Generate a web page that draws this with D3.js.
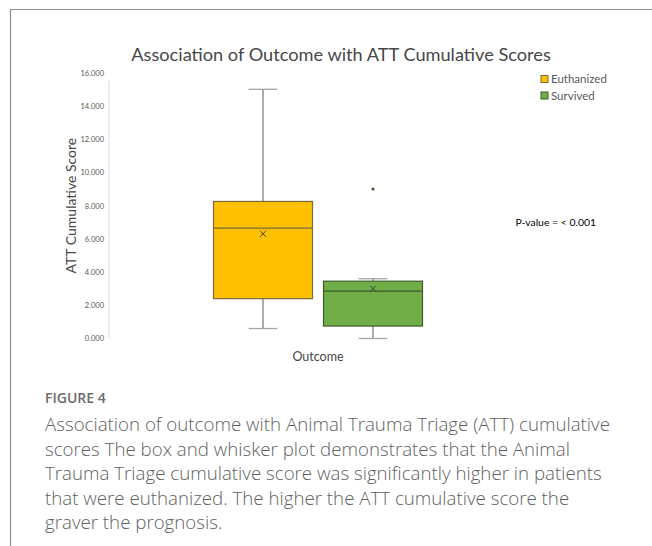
<!DOCTYPE html>
<html>
<head>
<meta charset="utf-8">
<script src="https://cdn.jsdelivr.net/npm/d3@7"></script>
<style>
	body { margin: 0; background: #fff; }
	svg { display: block; }
</style>
</head>
<body>
<div id="chartDiv"></div>
<script>
;(function() {

	// box plot values
	var seriesNames = ["Euthanized", "Survived"];
	var seriesColors = ["#ffc000", "#70ad47"];
	var seriesStrokes = ["#7a6a3e", "#3d5a2c"];
	var whiskerLow = [0.6, 0.0];
	var quartile1 = [2.4, 0.75];
	var medians = [6.65, 2.85];
	var quartile3 = [8.25, 3.45];
	var whiskerHigh = [15.0, 3.6];
	var means = [6.3, 3.0];
	var outliers = [[], [9.0]];

	var yTicks = [0, 2, 4, 6, 8, 10, 12, 14, 16];
	var categoryName = "Outcome";

	var chartTitle = "Association of Outcome with ATT Cumulative Scores";
	var yAxisLabelHeader = "ATT Cumulative Score";
	var pValueText = "P-value = < 0.001";
	var figureLabel = "FIGURE 4";
	var captionLines = [
		"Association of outcome with Animal Trauma Triage (ATT) cumulative",
		"scores The box and whisker plot demonstrates that the Animal",
		"Trauma Triage cumulative score was significantly higher in patients",
		"that were euthanized. The higher the ATT cumulative score the",
		"graver the prognosis."
	];

	var width = 652;
	var height = 546;
	var plot = { left: 109, right: 527, top: 72.7, bottom: 338.5 };
	var chartFont = "Lato, 'Open Sans', sans-serif";

	var chart;

	init();

	function init() {
		chart = d3.select("#chartDiv").append("svg")
			.attr("width", width)
			.attr("height", height);

		// figure frame (left + top rules)
		chart.append("path")
			.attr("d", "M10.5,546V9.5H652")
			.attr("fill", "none")
			.attr("stroke", "#8c8c8c")
			.attr("stroke-width", 1.2);

		createScales();
		createAxes();
		drawBoxes();
		drawLegend();
		drawCaption();
	}

	function createScales() {
		chart.yScale = d3.scaleLinear()
			.domain([0, 16])
			.range([plot.bottom, plot.top]);

		chart.xScale = d3.scaleBand()
			.domain([categoryName])
			.range([plot.left, plot.right])
			.paddingOuter(0.5);

		chart.seriesScale = d3.scaleBand()
			.domain(seriesNames)
			.range([0, chart.xScale.bandwidth()])
			.paddingInner(0.1);
	}

	function createAxes() {
		chart.append("text")
			.attr("x", 341)
			.attr("y", 61)
			.attr("text-anchor", "middle")
			.style("font-family", chartFont)
			.style("font-size", "18.2px")
			.attr("fill", "#474747")
			.text(chartTitle);

		var yAxis = d3.axisLeft(chart.yScale)
			.tickValues(yTicks)
			.tickSize(0)
			.tickPadding(5)
			.tickFormat(d3.format(".3f"));

		var g = chart.append("g")
			.attr("class", "y axis")
			.attr("transform", "translate(" + plot.left + ",0)")
			.call(yAxis);

		g.select(".domain")
			.attr("d", "M0," + chart.yScale(15.5) + "V" + chart.yScale(0))
			.attr("stroke", "#d9d9d9");

		g.selectAll("text")
			.style("font-family", chartFont)
			.style("font-size", "7.5px")
			.attr("fill", "#595959");

		// y axis header label
		chart.append("text")
			.attr("text-anchor", "middle")
			.attr("transform", "translate(76," + chart.yScale(8) + ") rotate(-90)")
			.style("font-family", chartFont)
			.style("font-size", "14px")
			.attr("fill", "#474747")
			.text(yAxisLabelHeader);

		// x axis header label
		chart.append("text")
			.attr("text-anchor", "middle")
			.attr("x", chart.xScale(categoryName) + chart.xScale.bandwidth() / 2)
			.attr("y", 361)
			.style("font-family", chartFont)
			.style("font-size", "12.5px")
			.attr("fill", "#474747")
			.text(categoryName);
	}

	function drawBoxes() {
		var y = chart.yScale;
		var x0 = chart.xScale(categoryName);
		var bw = chart.seriesScale.bandwidth();

		seriesNames.forEach(function(name, i) {
			var left = x0 + chart.seriesScale(name);
			var cx = left + bw / 2;
			var capHalf = bw * 0.145;
			var g = chart.append("g").attr("class", "box");

			// whiskers
			g.append("line")
				.attr("x1", cx).attr("x2", cx)
				.attr("y1", y(quartile3[i])).attr("y2", y(whiskerHigh[i]))
				.attr("stroke", "#595959").attr("stroke-width", 1);
			g.append("line")
				.attr("x1", cx).attr("x2", cx)
				.attr("y1", y(quartile1[i])).attr("y2", y(whiskerLow[i]))
				.attr("stroke", "#595959").attr("stroke-width", 1);
			[whiskerHigh[i], whiskerLow[i]].forEach(function(v) {
				g.append("line")
					.attr("x1", cx - capHalf).attr("x2", cx + capHalf)
					.attr("y1", y(v)).attr("y2", y(v))
					.attr("stroke", "#a6a6a6").attr("stroke-width", 1.3);
			});

			g.append("rect")
				.attr("x", left)
				.attr("y", y(quartile3[i]))
				.attr("width", bw)
				.attr("height", y(quartile1[i]) - y(quartile3[i]))
				.attr("fill", seriesColors[i])
				.attr("stroke", seriesStrokes[i])
				.attr("stroke-width", 1.2);

			g.append("line")
				.attr("x1", left).attr("x2", left + bw)
				.attr("y1", y(medians[i])).attr("y2", y(medians[i]))
				.attr("stroke", seriesStrokes[i]).attr("stroke-width", 1.2);

			// mean marker
			var m = 3;
			g.append("path")
				.attr("d", "M" + (cx - m) + "," + (y(means[i]) - m) + "L" + (cx + m) + "," + (y(means[i]) + m) +
					"M" + (cx + m) + "," + (y(means[i]) - m) + "L" + (cx - m) + "," + (y(means[i]) + m))
				.attr("stroke", "#333").attr("stroke-width", 0.9).attr("fill", "none");

			g.selectAll(".outlier").data(outliers[i]).enter().append("circle")
				.attr("class", "outlier")
				.attr("cx", cx)
				.attr("cy", function(d) { return y(d); })
				.attr("r", 1.5)
				.attr("fill", "#3d5a2c");
		});
	}

	function drawLegend() {
		var legend = chart.append("g")
			.attr("transform", "translate(541,79)");

		seriesNames.forEach(function(name, i) {
			var row = legend.append("g").attr("transform", "translate(0," + (i * 16.5) + ")");
			row.append("rect")
				.attr("x", 0).attr("y", -3.5)
				.attr("width", 7).attr("height", 7)
				.attr("fill", seriesColors[i])
				.attr("stroke", seriesStrokes[i]);
			row.append("text")
				.attr("x", 10)
				.attr("dy", "0.35em")
				.style("font-family", chartFont)
				.style("font-size", "11.5px")
				.attr("fill", "#595959")
				.text(name);
		});

		chart.append("text")
			.attr("x", 596)
			.attr("y", 222.7)
			.attr("dy", "0.35em")
			.attr("text-anchor", "end")
			.style("font-family", chartFont)
			.style("font-size", "10.4px")
			.attr("fill", "#000")
			.text(pValueText);
	}

	function drawCaption() {
		chart.append("text")
			.attr("x", 45)
			.attr("y", 403)
			.style("font-family", "'Open Sans', sans-serif")
			.style("font-weight", 600)
			.style("font-size", "14px")
			.attr("fill", "#6b6b6b")
			.text(figureLabel);

		chart.append("g").selectAll("text")
			.data(captionLines)
			.enter().append("text")
			.attr("x", 45)
			.attr("y", function(d, i) { return 431 + i * 24.5; })
			.style("font-family", "'Open Sans', sans-serif")
			.style("font-weight", 300)
			.style("font-size", "18.7px")
			.attr("fill", "#5f5f5f")
			.text(function(d) { return d; });
	}

})();
</script>
</body>
</html>
